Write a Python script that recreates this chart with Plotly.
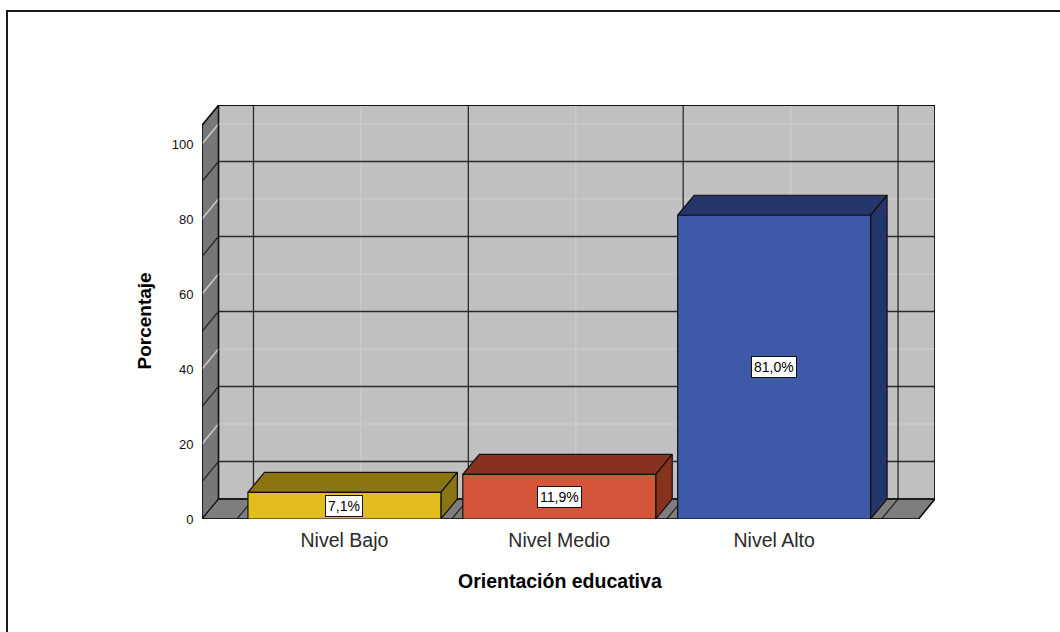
import plotly.graph_objects as go

# ---- data ----
categories = ["Nivel Bajo", "Nivel Medio", "Nivel Alto"]
percentages = [7.1, 11.9, 81.0]
y_ticks = [0, 20, 40, 60, 80, 100]
minor_grid = [10, 30, 50, 70, 90]
front_colors = ["#E1BD1F", "#D4553A", "#3E59A8"]
shade_colors = ["#8B7412", "#87321F", "#243669"]

# ---- geometry (axis units) ----
X_PX, Y_PX = 215.0, 3.75          # pixels per unit
DX, DY = 16.5 / X_PX, 20 / Y_PX   # depth offset of the 3D box
HALF = 0.449
X0, X1 = -0.6628, 2.672
YTOP = 105
FONT = "Liberation Sans, Arial, sans-serif"

fig = go.Figure()


def poly(xs, ys, fill, lw=1.2, lc="#111111"):
    fig.add_trace(go.Scatter(x=xs + [xs[0]], y=ys + [ys[0]], mode="lines",
                             fill="toself", fillcolor=fill,
                             line=dict(color=lc, width=lw),
                             hoverinfo="skip", showlegend=False))


def lines(segs, color, width):
    xs, ys = [], []
    for (a, b), (c, d) in segs:
        xs += [a, c, None]
        ys += [b, d, None]
    fig.add_trace(go.Scatter(x=xs, y=ys, mode="lines",
                             line=dict(color=color, width=width),
                             hoverinfo="skip", showlegend=False))


# walls
poly([X0 + DX, X1 + DX, X1 + DX, X0 + DX], [DY, DY, YTOP + DY, YTOP + DY], "#C0C0C0")
poly([X0, X0 + DX, X0 + DX, X0], [0, DY, YTOP + DY, YTOP], "#777777")
poly([X0, X1, X1 + DX, X0 + DX], [0, 0, DY, DY], "#7E7E7E")

centers = list(range(len(categories)))
bounds = [c - 0.5 for c in centers] + [centers[-1] + 0.5]

# light grid (at ticks / category centers)
light = []
light += [((X0 + DX, v + DY), (X1 + DX, v + DY)) for v in y_ticks if v > 0]
light += [((c + DX, DY), (c + DX, YTOP + DY)) for c in centers]
light += [((X0, v), (X0 + DX, v + DY)) for v in y_ticks if v > 0]
light += [((c, 0), (c + DX, DY)) for c in centers]
lines(light, "#CACACA", 1.5)

# dark grid (between ticks / category boundaries)
dark = []
dark += [((X0 + DX, v + DY), (X1 + DX, v + DY)) for v in minor_grid]
dark += [((b + DX, DY), (b + DX, YTOP + DY)) for b in bounds]
dark += [((X0, v), (X0 + DX, v + DY)) for v in minor_grid]
dark += [((b, 0), (b + DX, DY)) for b in bounds]
lines(dark, "#2A2A2A", 1.3)

# outline edges
lines([((X0, 0), (X1, 0)), ((X0, 0), (X0, YTOP)),
       ((X0 + DX, DY), (X0 + DX, YTOP + DY)), ((X0, YTOP), (X0 + DX, YTOP + DY)),
       ((X0 + DX, YTOP + DY), (X1 + DX, YTOP + DY)), ((X1 + DX, DY), (X1 + DX, YTOP + DY)),
       ((X1, 0), (X1 + DX, DY)), ((X0 + DX, DY), (X1 + DX, DY))], "#111111", 1.4)

# bars
for i, v in enumerate(percentages):
    xl, xr = i - HALF, i + HALF
    poly([xl, xr, xr + DX, xl + DX], [v, v, v + DY, v + DY], shade_colors[i])
    poly([xr, xr + DX, xr + DX, xr], [0, DY, v + DY, v], shade_colors[i])
    poly([xl, xr, xr, xl], [0, 0, v, v], front_colors[i])

annotations = []
for i, v in enumerate(percentages):
    annotations.append(dict(x=i, y=v / 2, xref="x", yref="y",
                            text=f"{v:.1f}".replace(".", ",") + "%",
                            showarrow=False, bgcolor="white",
                            bordercolor="#111111", borderwidth=1, borderpad=2,
                            font=dict(family=FONT, size=14, color="#000000")))

annotations.append(dict(x=(559.5 - 202) / 733, y=(519 - 581) / 414, xref="paper", yref="paper",
                        text="<b>Orientación educativa</b>", showarrow=False,
                        xanchor="center", yanchor="middle",
                        font=dict(family=FONT, size=19.5, color="#000000")))
annotations.append(dict(x=(144 - 202) / 733, y=(519 - 321.5) / 414, xref="paper", yref="paper",
                        text="<b>Porcentaje</b>", showarrow=False, textangle=-90,
                        xanchor="center", yanchor="middle",
                        font=dict(family=FONT, size=19, color="#000000")))

W, H = 1060, 632
fig.update_layout(
    width=W, height=H, autosize=False,
    margin=dict(l=202, r=W - 935, t=105, b=H - 519, pad=0),
    paper_bgcolor="white", plot_bgcolor="rgba(0,0,0,0)",
    annotations=annotations,
    shapes=[dict(type="rect", xref="paper", yref="paper",
                 x0=(7 - 202) / 733, x1=(1090 - 202) / 733,
                 y0=(519 - 660) / 414, y1=(519 - 11) / 414,
                 line=dict(color="#1A1A1A", width=2), fillcolor="rgba(0,0,0,0)")],
    xaxis=dict(range=[X0, X1 + DX], tickvals=centers, ticktext=categories,
               showgrid=False, zeroline=False, showline=False,
               ticks="outside", ticklen=4, tickcolor="rgba(0,0,0,0)",
               tickfont=dict(family=FONT, size=19.5, color="#2A2A2A"), fixedrange=True),
    yaxis=dict(range=[0, (519 - 105) / Y_PX], tickvals=y_ticks,
               ticktext=[str(t) for t in y_ticks],
               showgrid=False, zeroline=False, showline=False,
               ticks="outside", ticklen=5, tickcolor="rgba(0,0,0,0)",
               tickfont=dict(family=FONT, size=13, color="#111111"), fixedrange=True),
)

fig.write_html("out.html", config={"displayModeBar": False},
               post_script="document.body.style.margin='0';document.body.style.overflow='hidden';")
